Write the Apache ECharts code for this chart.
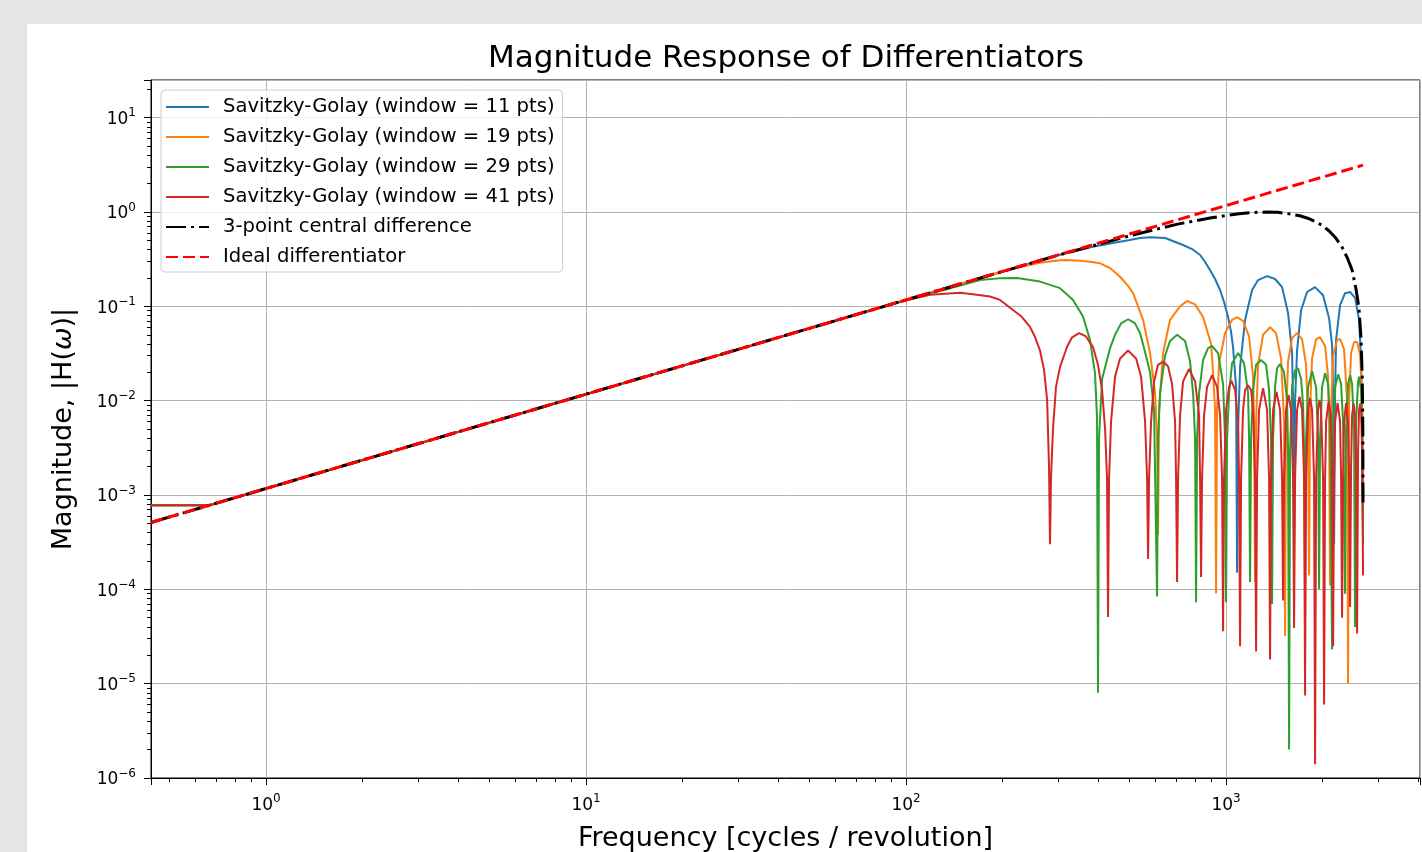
<!DOCTYPE html>
<html>
<head>
<meta charset="utf-8">
<script src="https://cdn.jsdelivr.net/npm/echarts@6/dist/echarts.min.js"></script>
<style>
html, body { margin: 0; padding: 0; background: #e5e5e5; }
#chart { position: absolute; left: 27px; top: 24px; width: 1395px; height: 828px; background: #fff; }
</style>
</head>
<body>
<div id="chart"></div>
<script>
// [frequency (cycles / revolution), |H(w)|]
const sg11 = [
  [0.437, 7.8e-4], [0.666, 7.8e-4], [300, 0.35], [380, 0.425], [443, 0.47], [500, 0.505], [539, 0.53], [579, 0.54],
  [644.9, 0.53], [734, 0.447], [783.2, 0.405], [830, 0.35], [860, 0.295], [891, 0.243], [924.2, 0.195], [958, 0.149],
  [986, 0.111], [1015, 0.077], [1036.9, 0.0534], [1052, 0.037], [1075, 0.0139], [1082.7, 1.5e-4],
  [1090.5, 0.005], [1106.3, 0.0228], [1146.9, 0.0716], [1206.1, 0.149], [1259.4, 0.19], [1343.6, 0.209], [1423.2, 0.195],
  [1496.7, 0.16], [1562.7, 0.085], [1608.4, 0.032], [1620, 0.01], [1631.7, 3e-4],
  [1643.5, 0.01], [1667.3, 0.034], [1716, 0.091], [1791.7, 0.142], [1897.9, 0.16], [2010.3, 0.131], [2099.1, 0.075],
  [2144.9, 0.039], [2160.4, 0.012], [2176, 3e-4],
  [2191.7, 0.012], [2207.5, 0.044], [2272, 0.103], [2355.2, 0.138], [2441.5, 0.142], [2531, 0.123], [2604.9, 0.072],
  [2642.6, 0.027], [2661.7, 0.008], [2680.9, 1e-3]
];

const sg19 = [
  [0.437, 7.8e-4], [0.666, 7.8e-4], [200, 0.234], [227, 0.262], [262.3, 0.29], [302.9, 0.308], [318.6, 0.31], [349.8, 0.305],
  [375.8, 0.297], [404, 0.286], [434.1, 0.255], [466.5, 0.206], [494.2, 0.165], [512.3, 0.138], [531, 0.1], [550.5, 0.072],
  [566.6, 0.045], [578.9, 0.032], [591.6, 0.018], [600.1, 0.012], [608.8, 0.004], [613.2, 3.8e-4],
  [617.6, 0.008], [635.7, 0.032], [668.5, 0.072], [718.4, 0.1], [755.5, 0.114], [800.3, 0.105], [847.7, 0.077],
  [897.9, 0.04], [911, 0.02], [924.2, 0.008], [930.8, 9.1e-5],
  [937.6, 0.008], [951.1, 0.025], [993.1, 0.052], [1044.4, 0.072], [1082.7, 0.077], [1130.4, 0.07], [1180.3, 0.048],
  [1214.8, 0.018], [1223.6, 0.006], [1232.5, 1.2e-4],
  [1241.4, 0.006], [1259.4, 0.024], [1305.5, 0.05], [1372.9, 0.06], [1433.5, 0.052], [1486, 0.028], [1518.4, 0.006], [1529.4, 3.2e-5],
  [1540.4, 0.006], [1562.7, 0.026], [1608.4, 0.046], [1667.3, 0.052], [1728.4, 0.045], [1778.9, 0.024], [1804.6, 0.006], [1817.7, 1.4e-4],
  [1830.8, 0.008], [1857.4, 0.028], [1911.6, 0.045], [1967.4, 0.047], [2039.5, 0.038], [2084, 0.018], [2099.1, 0.006], [2114.2, 1.1e-4],
  [2129.5, 0.008], [2160.4, 0.03], [2223.5, 0.044], [2272, 0.045], [2338.3, 0.035], [2389.4, 0.01], [2406.6, 1e-5],
  [2424, 0.01], [2459.1, 0.032], [2512.8, 0.042], [2567.7, 0.042], [2623.7, 0.03], [2661.7, 0.012], [2680.9, 5e-4]
];

const sg29 = [
  [0.437, 7.8e-4], [0.666, 7.8e-4], [110, 0.129], [137.2, 0.155], [170.3, 0.19], [195, 0.198], [222.2, 0.2], [262.3, 0.183],
  [302.9, 0.156], [332.6, 0.117], [357.3, 0.078], [375.8, 0.044], [389.5, 0.0196], [395.2, 0.0067], [398, 8e-6],
  [401, 0.004], [409.9, 0.017], [434.1, 0.036], [450, 0.05], [469.9, 0.066], [494.2, 0.073], [519.7, 0.066], [538.7, 0.052],
  [554.5, 0.036], [578.9, 0.02], [595.8, 0.008], [608.8, 8.4e-5],
  [613.2, 0.004], [622.1, 0.012], [644.9, 0.03], [668.5, 0.043], [703.1, 0.05], [744.7, 0.043], [772, 0.026], [788.9, 0.012],
  [800.3, 0.004], [806.1, 7.3e-5],
  [811.9, 0.004], [823.7, 0.012], [847.7, 0.027], [878.8, 0.036], [904.4, 0.038], [944.3, 0.032], [978.9, 0.015], [993.1, 0.004], [1000.3, 7.3e-5],
  [1007.5, 0.004], [1022.1, 0.012], [1044.4, 0.025], [1090.5, 0.032], [1138.6, 0.025], [1171.9, 0.012], [1180.3, 0.004], [1188.9, 1.2e-4],
  [1197.5, 0.004], [1214.8, 0.013], [1241.4, 0.024], [1286.8, 0.027], [1334, 0.024], [1363.1, 0.013], [1382.8, 0.004], [1392.8, 7e-5],
  [1402.9, 0.004], [1423.2, 0.014], [1443.8, 0.022], [1475.3, 0.0245], [1518.4, 0.02], [1551.5, 0.01], [1562.7, 0.003], [1574, 2e-6],
  [1585.4, 0.003], [1608.4, 0.014], [1643.5, 0.021], [1679.3, 0.022], [1716, 0.017], [1740.9, 0.009], [1753.4, 0.003], [1766.1, 1.1e-4],
  [1778.9, 0.004], [1804.6, 0.014], [1857.4, 0.0205], [1911.6, 0.014], [1939.3, 0.004], [1953.3, 1e-4],
  [1967.4, 0.004], [1995.9, 0.014], [2039.5, 0.0196], [2084, 0.015], [2114.2, 0.006], [2144.9, 2.3e-5],
  [2160.4, 0.004], [2191.7, 0.014], [2239.5, 0.019], [2288.4, 0.015], [2321.6, 0.006], [2355.2, 9e-5],
  [2372.2, 0.005], [2406.6, 0.015], [2441.5, 0.0187], [2476.9, 0.015], [2512.8, 0.005], [2531, 4e-5],
  [2549.3, 0.006], [2586.2, 0.016], [2604.9, 0.018], [2642.6, 0.013], [2661.7, 0.005], [2680.9, 3e-4]
];

const sg41 = [
  [0.437, 7.8e-4], [0.666, 7.8e-4], [90, 0.1055], [103, 0.118], [119, 0.133], [147.5, 0.139], [164.3, 0.1334], [183, 0.127],
  [196.7, 0.117], [216, 0.0914], [230.4, 0.077], [244, 0.0606], [253, 0.0473], [262, 0.0344], [270, 0.0211], [276, 0.0102],
  [279.8, 0.002], [281.8, 3.0e-4],
  [283.8, 0.0015], [287.9, 0.005], [294.2, 0.014], [302.9, 0.0228], [318.6, 0.0373], [330.3, 0.047], [347.3, 0.052], [365.1, 0.048],
  [384, 0.037], [398.1, 0.024], [409.9, 0.013], [418.8, 0.005], [424.8, 0.0015], [427.9, 5.1e-5],
  [431, 0.0015], [437.2, 0.006], [450, 0.018], [466.5, 0.028], [494.2, 0.034], [523.5, 0.028], [542.6, 0.018], [558.5, 0.006], [566.6, 0.0015], [570.7, 2.1e-4],
  [574.8, 0.0015], [583.1, 0.006], [595.8, 0.016], [613, 0.024], [635.7, 0.026], [659, 0.023], [678.2, 0.015], [693, 0.006], [698, 0.0015], [703.1, 1.2e-4],
  [708.2, 0.0015], [718.4, 0.007], [734.1, 0.016], [766.5, 0.0217], [800.3, 0.016], [823.7, 0.007], [829.6, 0.0015], [835.6, 1.35e-4],
  [841.6, 0.0015], [853.8, 0.007], [872.5, 0.014], [904.4, 0.0187], [937.6, 0.014], [958, 0.007], [971.9, 0.0015], [978.9, 3.6e-5],
  [986, 0.0015], [1000.3, 0.008], [1022.1, 0.014], [1040, 0.0162], [1067.2, 0.013], [1090.5, 0.006], [1098.4, 0.0015], [1106.3, 2.5e-5],
  [1114.3, 0.0015], [1130.4, 0.008], [1146.9, 0.013], [1171.9, 0.0146], [1197.5, 0.013], [1214.8, 0.008], [1232.5, 0.0015], [1241.4, 2.2e-5],
  [1250.3, 0.0015], [1268.5, 0.008], [1305.5, 0.0136], [1343.6, 0.008], [1363.1, 0.0015], [1372.9, 1.8e-5],
  [1382.8, 0.0015], [1402.9, 0.008], [1438, 0.0124], [1475.3, 0.008], [1496.7, 0.0015], [1507.5, 7.6e-5],
  [1518.4, 0.0015], [1540.4, 0.008], [1568, 0.0115], [1596.8, 0.008], [1620, 0.0015], [1631.7, 3.9e-5],
  [1643.5, 0.0015], [1667.3, 0.008], [1697, 0.011], [1728.4, 0.008], [1753.4, 0.0015], [1766.1, 7.5e-6],
  [1778.9, 0.0015], [1804.6, 0.008], [1830.8, 0.0107], [1857.4, 0.008], [1884.3, 0.0015], [1897.9, 1.4e-6],
  [1911.6, 0.0015], [1939.3, 0.008], [1960, 0.0102], [1981.6, 0.008], [2010.3, 0.0015], [2024.9, 6e-6],
  [2039.5, 0.0015], [2054.2, 0.006], [2091, 0.0097], [2129.5, 0.007], [2144.9, 0.0015], [2160.4, 2.5e-5],
  [2176, 0.0015], [2191.7, 0.006], [2231, 0.0095], [2272, 0.006], [2288.4, 0.0015], [2304.9, 5e-5],
  [2321.6, 0.0015], [2338.3, 0.006], [2372.2, 0.0094], [2406.6, 0.006], [2424, 0.0015], [2441.5, 6.5e-5],
  [2459.1, 0.002], [2476.9, 0.007], [2504, 0.0093], [2531, 0.007], [2549.3, 0.002], [2567.7, 3.4e-5],
  [2586.2, 0.003], [2604.9, 0.008], [2623.7, 0.0093], [2642.6, 0.008], [2661.7, 0.003], [2680.9, 1.4e-4]
];

const central3 = [
  [0.437, 5.12e-4], [100, 0.1172], [300, 0.35], [500, 0.56], [700, 0.74], [900, 0.87], [1100, 0.96], [1200, 0.987],
  [1340, 1.0], [1450, 0.992], [1600, 0.95], [1700, 0.912], [1800, 0.86], [1900, 0.793], [2000, 0.72], [2100, 0.629],
  [2200, 0.533], [2300, 0.43], [2400, 0.32], [2477, 0.243], [2500, 0.209], [2550, 0.15], [2580, 0.117], [2605, 0.091],
  [2640, 0.047], [2665, 0.018], [2676, 0.005], [2680, 8e-4]
];

const ideal = [[0.437, 5.12e-4], [2680, 3.14]];

const seriesNames = [
  'Savitzky-Golay (window = 11 pts)',
  'Savitzky-Golay (window = 19 pts)',
  'Savitzky-Golay (window = 29 pts)',
  'Savitzky-Golay (window = 41 pts)',
  '3-point central difference',
  'Ideal differentiator'
];
const colors = ['#1f77b4', '#ff7f0e', '#2ca02c', '#d62728', '#000000', '#ff0000'];

const xRange = [0.437, 4038];
const yRange = [1e-6, 25.1];
const minorSteps = [2, 3, 4, 5, 6, 7, 8, 9];

function minorTicks(range) {
  const out = [];
  for (let e = Math.floor(Math.log10(range[0])); e <= Math.ceil(Math.log10(range[1])); e++) {
    minorSteps.forEach(m => {
      const v = m * Math.pow(10, e);
      if (v > range[0] && v < range[1]) out.push(v);
    });
  }
  return out;
}

const font = 'DejaVu Sans';

function powLabel(v) {
  const lg = Math.log10(v);
  const e = Math.round(lg);
  if (Math.abs(lg - e) > 1e-6) return '';
  return '{b|10}{s|' + (e < 0 ? '\u2212' + (-e) : e) + '}';
}

const tickRich = {
  b: { fontFamily: font, fontSize: 17, color: '#000', verticalAlign: 'bottom', lineHeight: 21 },
  s: { fontFamily: font, fontSize: 12, color: '#000', verticalAlign: 'top', lineHeight: 21 }
};

function majorAxis(range, extra) {
  return Object.assign({
    type: 'log',
    logBase: 10,
    min: range[0],
    max: range[1],
    axisLine: { show: true, lineStyle: { color: '#000', width: 1 } },
    axisTick: { show: true, length: 7, lineStyle: { color: '#000', width: 1 } },
    splitLine: { show: true, lineStyle: { color: '#b0b0b0', width: 1 } }
  }, extra);
}

function minorAxis(range, position) {
  return {
    type: 'log',
    logBase: 10,
    min: range[0],
    max: range[1],
    position: position,
    axisLine: { show: false },
    axisTick: { show: true, length: 4, customValues: minorTicks(range), lineStyle: { color: '#000', width: 1 } },
    axisLabel: { show: false },
    splitLine: { show: false }
  };
}

const lineData = [sg11, sg19, sg29, sg41, central3, ideal];
const widths = [2, 2, 2, 2, 3, 3];
const dashes = ['solid', 'solid', 'solid', 'solid', [20, 5, 3, 5], [12, 5]];

const chart = echarts.init(document.getElementById('chart'));

chart.setOption({
  animation: false,
  backgroundColor: '#ffffff',
  textStyle: { fontFamily: font },
  graphic: [{
    type: 'text',
    x: 759,
    y: 35,
    style: {
      text: 'Magnitude Response of Differentiators',
      fontFamily: font,
      fontSize: 31,
      fill: '#000',
      align: 'center',
      verticalAlign: 'middle'
    }
  }],
  grid: {
    left: 124, top: 56, right: 2, bottom: 74,
    outerBoundsMode: 'none',
    containLabel: false,
    show: true, borderColor: '#000', borderWidth: 1, backgroundColor: 'transparent'
  },
  legend: {
    orient: 'vertical',
    left: 134,
    top: 66,
    itemWidth: 43,
    itemHeight: 14,
    itemGap: 10,
    padding: [7, 8, 5, 4],
    backgroundColor: 'rgba(255,255,255,0.8)',
    borderColor: '#cccccc',
    borderWidth: 1,
    borderRadius: 4,
    itemStyle: { opacity: 0 },
    textStyle: { fontFamily: font, fontSize: 19.6, color: '#000', padding: [0, 0, 0, 9] },
    data: seriesNames
  },
  xAxis: [
    majorAxis(xRange, {
      position: 'bottom',
      name: 'Frequency [cycles / revolution]',
      nameLocation: 'middle',
      nameGap: 47,
      nameTextStyle: { fontFamily: font, fontSize: 27, color: '#000' },
      axisLabel: { formatter: powLabel, rich: tickRich, color: '#000', margin: 15 }
    }),
    minorAxis(xRange, 'bottom')
  ],
  yAxis: [
    majorAxis(yRange, {
      position: 'left',
      splitNumber: 8,
      name: 'Magnitude, |H({i|\u03c9})|',
      nameLocation: 'middle',
      nameRotate: 90,
      nameGap: 74,
      nameTextStyle: {
        fontFamily: font, fontSize: 27, color: '#000',
        rich: { i: { fontFamily: font, fontSize: 27, fontStyle: 'italic', color: '#000' } }
      },
      axisLabel: { formatter: powLabel, rich: tickRich, color: '#000', margin: 15 }
    }),
    minorAxis(yRange, 'left')
  ],
  series: lineData.map((d, i) => ({
    name: seriesNames[i],
    type: 'line',
    xAxisIndex: 0,
    yAxisIndex: 0,
    data: d,
    symbol: 'none',
    showSymbol: false,
    color: colors[i],
    lineStyle: { color: colors[i], width: widths[i], type: dashes[i], cap: 'butt' }
  }))
});
</script>
</body>
</html>
